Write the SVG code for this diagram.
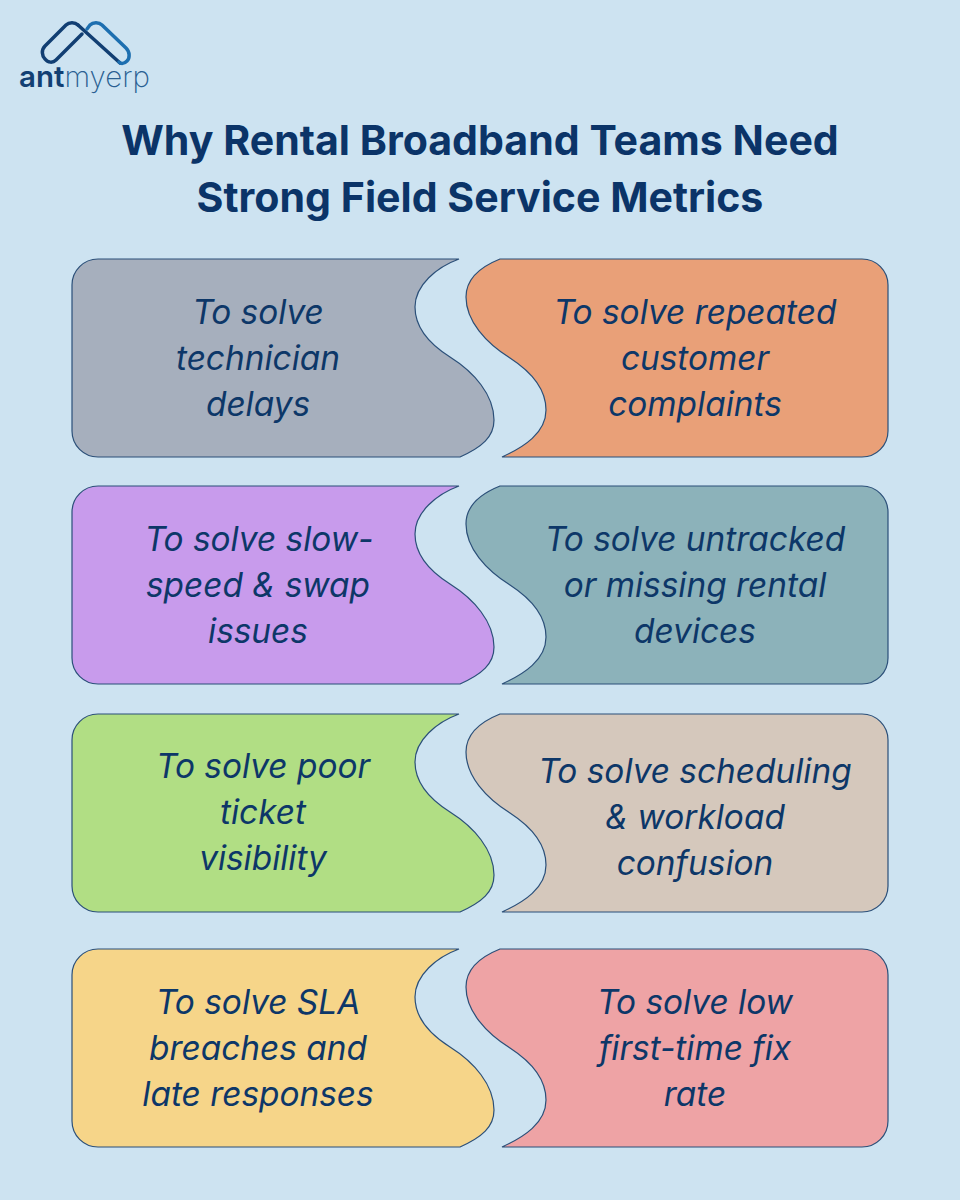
<svg xmlns="http://www.w3.org/2000/svg" xmlns:xlink="http://www.w3.org/1999/xlink" width="960" height="1200" viewBox="0 0 960 1200">
<style>
.bg{fill:#cde3f1}
.s{stroke:#2b4f78;stroke-width:1.2}
.t{font-family:Inter,sans-serif;font-style:italic;font-size:33.4px;fill:#0d3768;text-anchor:middle}
.h{font-family:Inter,sans-serif;font-weight:700;font-size:41.1px;fill:#0b3468;text-anchor:middle}
.lg{fill:none;stroke-linecap:round;stroke-linejoin:round;stroke-width:3.5}
</style>
<defs>
<path id="L" d="M98 0H459C437 8 415 26 415 48C415 70 431 86 450 98C474 113 494 136 494 161C494 178 482 188 460 198H98A26 26 0 0 1 72 172V26A26 26 0 0 1 98 0Z"/>
<path id="R" d="M500 0H862A26 26 0 0 1 888 26V172A26 26 0 0 1 862 198H502C524 188 546 174 546 151C546 129 530 112 510 99C486 84 466 62 466 38C466 20 480 8 500 0Z"/>
</defs>
<rect class="bg" width="960" height="1200"/>
<g id="logo">
<path class="lg" stroke="#123f73" d="M78 25C75 22 69 22 66 25L45 46C41 50 42 56 45 59C48 63 53 63 56 60L82 34"/>
<path class="lg" stroke="#123f73" d="M78 25L120 63"/>
<path class="lg" stroke="#1d6fb0" d="M87 29L90 25C93 22 99 22 102 25L126 48C130 52 130 58 127 61C124 64 121 64 119 62"/>
<text x="19" y="87" font-family="Inter,sans-serif" font-size="29.5" font-weight="600" fill="#123f73">ant<tspan font-weight="200" fill="#2a5f92">myerp</tspan></text>
</g>
<g id="title">
<text class="h" x="480" y="155">Why Rental Broadband Teams Need</text>
<text class="h" x="480" y="212">Strong Field Service Metrics</text>
</g>
<g id="connectors"/>
<g id="n1"><use href="#L" class="s" y="259" fill="#a6afbd"/><text class="t" x="258" y="324">To solve</text><text class="t" x="258" y="370">technician</text><text class="t" x="258" y="416">delays</text></g>
<g id="n2"><use href="#R" class="s" y="259" fill="#e9a078"/><text class="t" x="695" y="324">To solve repeated</text><text class="t" x="695" y="370">customer</text><text class="t" x="695" y="416">complaints</text></g>
<g id="n3"><use href="#L" class="s" y="486" fill="#c89bec"/><text class="t" x="259" y="551">To solve slow-</text><text class="t" x="258" y="597">speed &amp; swap</text><text class="t" x="258" y="643">issues</text></g>
<g id="n4"><use href="#R" class="s" y="486" fill="#8cb2ba"/><text class="t" x="695" y="551">To solve untracked</text><text class="t" x="695" y="597">or missing rental</text><text class="t" x="695" y="643">devices</text></g>
<g id="n5"><use href="#L" class="s" y="714" fill="#b1de84"/><text class="t" x="263" y="778">To solve poor</text><text class="t" x="263" y="824">ticket</text><text class="t" x="263" y="870">visibility</text></g>
<g id="n6"><use href="#R" class="s" y="714" fill="#d5c8bc"/><text class="t" x="695" y="783">To solve scheduling</text><text class="t" x="695" y="829">&amp; workload</text><text class="t" x="695" y="875">confusion</text></g>
<g id="n7"><use href="#L" class="s" y="949" fill="#f6d589"/><text class="t" x="258" y="1014">To solve SLA</text><text class="t" x="258" y="1060">breaches and</text><text class="t" x="258" y="1106">late responses</text></g>
<g id="n8"><use href="#R" class="s" y="949" fill="#eea3a5"/><text class="t" x="695" y="1014">To solve low</text><text class="t" x="695" y="1060">first-time fix</text><text class="t" x="695" y="1106">rate</text></g>
</svg>
